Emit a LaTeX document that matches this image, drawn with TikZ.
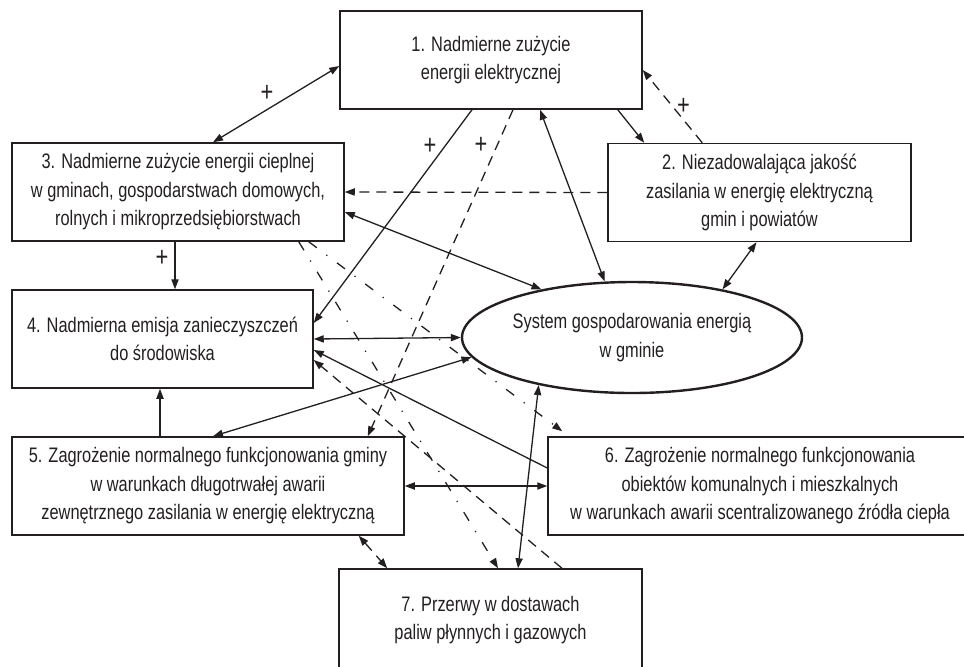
\documentclass[tikz,border=0pt]{standalone}
\usepackage{fontspec}
\setmainfont{Liberation Sans}[FakeStretch=0.78]
\usetikzlibrary{arrows.meta,calc,shapes.geometric}
\definecolor{cInk}{RGB}{35,31,32}

\begin{document}
\begin{tikzpicture}[x=0.5pt, y=-0.5pt,
  every node/.style={font=\fontsize{10.5}{14.25}\selectfont, text=cInk},
  box/.style={draw=cInk, line width=0.75pt, minimum height=49pt, inner sep=0pt, align=center},
  arr/.style={-{Triangle[length=5pt,width=3.6pt]}, draw=cInk, line width=0.65pt},
  biarr/.style={{Triangle[length=5pt,width=3.6pt]}-{Triangle[length=5pt,width=3.6pt]}, draw=cInk, line width=0.65pt},
  dsh/.style={dash pattern=on 5pt off 3.5pt},
  dshdot/.style={dash pattern=on 5pt off 6pt on 0.6pt off 6pt},
  plus/.style={inner sep=1pt, font=\fontsize{14}{14}\selectfont}]
  \useasboundingbox (0,0) rectangle (964,666);
  % Boxes
  \node[box, minimum width=151pt] (b1) at (491,60)
    {1. Nadmierne zużycie\\energii elektrycznej};
  \node[box, minimum width=151.5pt] (b2) at (759.5,192.5)
    {2. Niezadowalająca jakość\\zasilania w energię elektryczną\\gmin i powiatów};
  \node[box, minimum width=166pt] (b3) at (178,192)
    {3. Nadmierne zużycie energii cieplnej\\w gminach, gospodarstwach domowych,\\rolnych i mikroprzedsiębiorstwach};
  \node[box, minimum width=150.5pt] (b4) at (162.5,339)
    {4. Nadmierna emisja zanieczyszczeń\\do środowiska};
  \node[box, minimum width=196pt] (b5) at (208,486)
    {5. Zagrożenie normalnego funkcjonowania gminy\\w warunkach długotrwałej awarii\\zewnętrznego zasilania w energię elektryczną};
  \node[box, minimum width=212pt] (b6) at (760,486)
    {6. Zagrożenie normalnego funkcjonowania\\obiektów komunalnych i mieszkalnych\\w warunkach awarii scentralizowanego źródła ciepła};
  \node[box, minimum width=151.5pt, minimum height=51pt] (b7) at (490.5,620)
    {7. Przerwy w dostawach\\paliw płynnych i gazowych};
  % System (ellipse)
  \node[ellipse, draw=cInk, line width=1.2pt, minimum width=170pt, minimum height=55.5pt,
        inner sep=0pt, align=center] (ell) at (632,337.5)
    {System gospodarowania energią\\w gminie};
  % links from box 1
  \draw[biarr] ($(b3.north)+(35,0)$) -- node[plus,above left]{+} ($(b1.west)+(0,6)$);
  \draw[arr] ($(b1.south)+(-19,0)$) -- node[plus,left=3pt,pos=.17]{+} ($(b4.east)+(0,-16)$);
  \draw[arr,dsh] ($(b1.south)+(22,0)$) -- node[plus,left=3.5pt,pos=.11]{+} ($(b5.north east)+(-37,0)$);
  \draw[biarr] ($(b1.south)+(49,0)$) -- (ell.116);
  \draw[arr] ($(b1.south east)+(-25,0)$) -- ($(b2.north west)+(37,0)$);
  % links from box 2
  \draw[arr,dsh] ($(b2.north west)+(95,0)$) -- node[plus,right=1pt,pos=.5]{+} ($(b1.east)+(0,10)$);
  \draw[arr,dsh] (b2.west) -- (b3.east);
  \draw[biarr] ($(b2.south)+(-3,0)$) -- (ell.28);
  % links from box 3
  \draw[biarr] ($(b3.east)+(0,20)$) -- (ell.152);
  \draw[arr] ($(b3.south)+(-3,0)$) -- node[plus,left=2pt,pos=.35]{+} ($(b4.north)+(12.5,0)$);
  \draw[arr,dshdot] ($(b3.south east)+(-46,0)$) -- ($(b7.north)+(7.5,0)$);
  \draw[arr,dshdot] ($(b3.south east)+(-36,0)$) -- ($(b6.north west)+(15,-5)$);
  % box 4 and the system
  \draw[biarr] (b4.east) -- (ell.west);
  \draw[biarr] ($(b5.north)+(5,0)$) -- (ell.187);
  \draw[arr] ($(b6.west)+(0,-18)$) -- ($(b4.east)+(0,11)$);
  \draw[arr,dsh] ($(b7.north)+(71.5,0)$) -- ($(b4.east)+(0,21)$);
  \draw[arr] ($(b5.north)+(-48,0)$) -- ($(b4.south)+(-2.5,0)$);
  % lower links
  \draw[biarr] (b5.east) -- (b6.west);
  \draw[biarr,dsh] ($(b5.south east)+(-46,0)$) -- ($(b7.north west)+(49,0)$);
  \draw[biarr] (ell.207) -- ($(b7.north)+(27.5,0)$);
\end{tikzpicture}
\end{document}
